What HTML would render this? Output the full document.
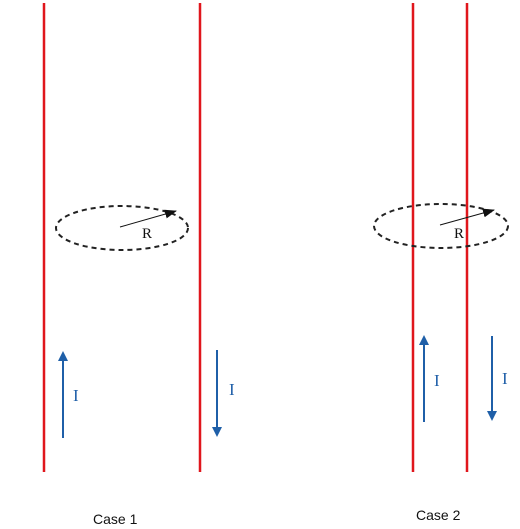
<!DOCTYPE html>
<html><head><meta charset="utf-8"><style>
html,body{margin:0;padding:0;background:#fff;}
svg{display:block;}
</style></head><body>
<svg width="520" height="529" viewBox="0 0 520 529">
<defs>
<marker id="ab" markerWidth="10" markerHeight="10" refX="5" refY="5" orient="auto" markerUnits="userSpaceOnUse"><path d="M0,0 L10,5 L0,10 Z" fill="#1f5fa8"/></marker>
<marker id="ak" markerWidth="12" markerHeight="9" refX="11" refY="4.5" orient="auto" markerUnits="userSpaceOnUse"><path d="M0,0 L12,4.5 L0,9 Z" fill="#111"/></marker>
</defs>
<g>
<line x1="44" y1="3" x2="44" y2="472" stroke="#e0161c" stroke-width="2.5"/>
<line x1="200" y1="3" x2="200" y2="472" stroke="#e0161c" stroke-width="2.5"/>
<ellipse cx="122" cy="228" rx="66" ry="22" fill="none" stroke="#222" stroke-width="2" stroke-dasharray="5,4"/>
<line x1="120" y1="227" x2="176" y2="211" stroke="#111" stroke-width="1" marker-end="url(#ak)"/>
<text x="142" y="238" font-family="Liberation Serif, serif" font-size="15" fill="#111">R</text>
<line x1="63" y1="438" x2="63" y2="356" stroke="#1f5fa8" stroke-width="2" marker-end="url(#ab)"/>
<text x="73" y="401" font-family="Liberation Serif, serif" font-size="17" fill="#1f5fa8">I</text>
<line x1="217" y1="350" x2="217" y2="432" stroke="#1f5fa8" stroke-width="2" marker-end="url(#ab)"/>
<text x="229" y="395" font-family="Liberation Serif, serif" font-size="17" fill="#1f5fa8">I</text>
<text x="93" y="524" font-family="Liberation Sans, sans-serif" font-size="14" fill="#111">Case 1</text>
</g>
<g>
<line x1="413" y1="3" x2="413" y2="472" stroke="#e0161c" stroke-width="2.5"/>
<line x1="467" y1="3" x2="467" y2="472" stroke="#e0161c" stroke-width="2.5"/>
<ellipse cx="441" cy="226" rx="67" ry="22" fill="none" stroke="#222" stroke-width="2" stroke-dasharray="5,4"/>
<line x1="440" y1="225" x2="494" y2="210" stroke="#111" stroke-width="1" marker-end="url(#ak)"/>
<text x="454" y="238" font-family="Liberation Serif, serif" font-size="15" fill="#111">R</text>
<line x1="424" y1="422" x2="424" y2="340" stroke="#1f5fa8" stroke-width="2" marker-end="url(#ab)"/>
<text x="434" y="386" font-family="Liberation Serif, serif" font-size="17" fill="#1f5fa8">I</text>
<line x1="492" y1="336" x2="492" y2="416" stroke="#1f5fa8" stroke-width="2" marker-end="url(#ab)"/>
<text x="502" y="384" font-family="Liberation Serif, serif" font-size="17" fill="#1f5fa8">I</text>
<text x="416" y="520" font-family="Liberation Sans, sans-serif" font-size="14" fill="#111">Case 2</text>
</g>
</svg>
</body></html>
